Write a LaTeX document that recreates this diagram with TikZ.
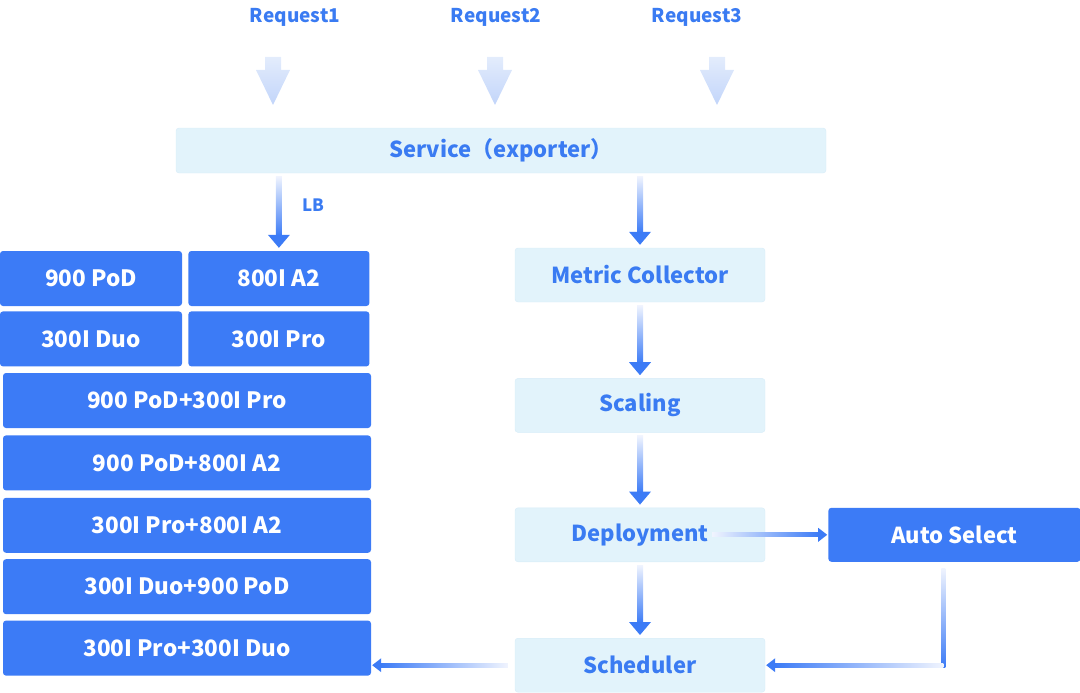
\documentclass[tikz,border=0pt]{standalone}
\usepackage{fontspec}
\setmainfont{Noto Sans CJK SC}
\usetikzlibrary{positioning, calc}
\definecolor{cBlue}{HTML}{3C7BF6}
\definecolor{cText}{HTML}{3A7BF2}
\definecolor{cPale}{HTML}{E2F3FB}
\definecolor{cPaleEdge}{HTML}{D6ECF8}
\definecolor{cFade}{HTML}{F0F4FE}
\definecolor{cReqTop}{HTML}{E3ECFC}
\definecolor{cReqBot}{HTML}{C2D5FA}
\tikzset{
	card/.style   ={rectangle, rounded corners=3pt, fill=cBlue, text=white, font=\fontsize{22.5}{26}\selectfont\bfseries, minimum height=55pt, inner sep=0pt},
	wide/.style   ={card, minimum width=368pt},
	stage/.style  ={rectangle, rounded corners=3pt, draw=cPaleEdge, fill=cPale, text=cText, font=\fontsize{22}{26}\selectfont\bfseries, minimum width=250pt, minimum height=54pt, inner sep=0pt},
	reqlabel/.style={text=cText, font=\fontsize{19}{22}\selectfont\bfseries},
	reqarrow/.pic ={\shade[top color=cReqTop, bottom color=cReqBot] (-8,0) -- (8,0) -- (8,13) -- (17,13) -- (0,48) -- (-17,13) -- (-8,13) -- cycle;},
}
% gradient connectors: pale at the start, blue at the tip
\newcommand{\flowdown}[2]{%
	\shade[top color=cFade, bottom color=cBlue] ([xshift=-3pt,yshift=-3pt]#1) rectangle ([xshift=3pt,yshift=15pt]#2);
	\fill[cBlue] ([xshift=-11pt,yshift=16pt]#2) -- ([xshift=11pt,yshift=16pt]#2) -- ([yshift=3pt]#2) -- cycle;}
\newcommand{\flowright}[2]{%
	\shade[left color=cFade, right color=cBlue] ([yshift=-2pt]#1) rectangle ([xshift=-9pt,yshift=2pt]#2);
	\fill[cBlue] ([xshift=-10pt,yshift=7pt]#2) -- ([xshift=-10pt,yshift=-7pt]#2) -- ([xshift=-1pt]#2) -- cycle;}
\newcommand{\flowleft}[2]{%
	\shade[left color=cBlue, right color=cFade] ([xshift=9pt,yshift=-2pt]#2) rectangle ([yshift=2pt]#1);
	\fill[cBlue] ([xshift=10pt,yshift=7pt]#2) -- ([xshift=10pt,yshift=-7pt]#2) -- ([xshift=1pt]#2) -- cycle;}

\begin{document}
\begin{tikzpicture}[x=1pt, y=-1pt]
	\useasboundingbox (0,0) rectangle (1080,693);
	% requests
	\node[reqlabel] (req1) at (295,17) {Request1};
	\node[reqlabel] (req2) at (496,17) {Request2};
	\node[reqlabel] (req3) at (697,17) {Request3};
	\pic at (273,57) {reqarrow};
	\pic at (495,57) {reqarrow};
	\pic at (717,57) {reqarrow};
	\node[stage, minimum width=650pt, minimum height=45pt] (svc) at (501,150.5) {Service（exporter）};
	% device pool
	\node[card, minimum width=182pt] (pod) at (91,278.5) {900 PoD};
	\node[card, minimum width=181pt, right=6pt of pod] (a2) {800I A2};
	\node[card, minimum width=182pt, below=5pt of pod] (duo) {300I Duo};
	\node[card, minimum width=181pt, right=6pt of duo] (pro) {300I Pro};
	\node[wide] (mixA) at (187,400.5) {900 PoD+300I Pro};
	\node[wide, below=7pt of mixA] (mixB) {900 PoD+800I A2};
	\node[wide, below=7pt of mixB] (mixC) {300I Pro+800I A2};
	\node[wide, below=6pt of mixC] (mixD) {300I Duo+900 PoD};
	\node[wide, below=6pt of mixD] (mixE) {300I Pro+300I Duo};
	% control chain
	\node[stage] (metric) at (640,275) {Metric Collector};
	\node[stage, below=76pt of metric] (scaling) {Scaling};
	\node[stage, below=75pt of scaling] (deploy) {Deployment};
	\node[stage, below=76pt of deploy] (sched) {Scheduler};
	\node[card, minimum width=252pt, minimum height=54pt, font=\fontsize{22}{26}\selectfont\bfseries, right=63pt of deploy] (auto) {Auto Select};
	\node[text=cText, font=\fontsize{17}{20}\selectfont\bfseries] (lb) at (313,205) {LB};
	\coordinate (lbtop) at (svc.south -| a2.north);
	\coordinate (mtop) at (svc.south -| metric.north);
	\coordinate (dstart) at ([xshift=-53pt]deploy.east);
	\coordinate (atop) at ([xshift=-11pt,yshift=-6pt]auto.south);
	\coordinate (abend) at (atop |- sched.east);
	\coordinate (sstart) at ([xshift=-7pt]sched.west);
	\coordinate (mend) at (mixE.east |- sched.west);
	\flowdown{lbtop}{a2.north}
	\flowdown{mtop}{metric.north}
	\flowdown{metric.south}{scaling.north}
	\flowdown{scaling.south}{deploy.north}
	\flowdown{deploy.south}{sched.north}
	\flowright{dstart}{auto.west}
	\shade[top color=cFade, bottom color=cBlue] ([xshift=-2pt]atop) rectangle ([xshift=2pt,yshift=-2pt]abend);
	\flowleft{abend}{sched.east}
	\flowleft{sstart}{mend}
\end{tikzpicture}
\end{document}
